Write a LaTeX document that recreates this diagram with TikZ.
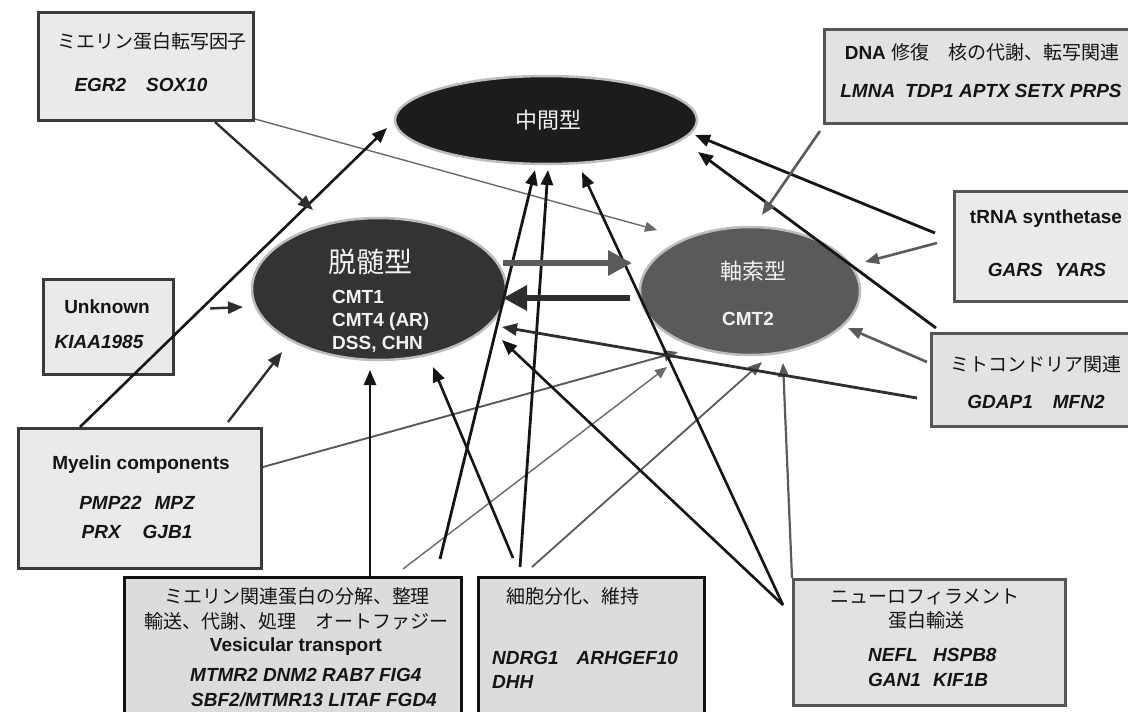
\documentclass[tikz,border=0pt]{standalone}
\usepackage{fontspec}
\setmainfont{Liberation Sans}
\newfontfamily\jpfont{Noto Sans CJK JP}
\usetikzlibrary{arrows.meta,shapes.geometric}

\definecolor{inkK}{HTML}{151515}
\definecolor{inkD}{HTML}{2E2E2E}
\definecolor{inkG}{HTML}{5A5A5A}
\definecolor{inkL}{HTML}{6A6A6A}
\definecolor{rim}{HTML}{BDBDBD}
\definecolor{fillMid}{HTML}{1C1C1C}
\definecolor{fillDem}{HTML}{333333}
\definecolor{fillAxo}{HTML}{5A5A5A}
\definecolor{boxA}{HTML}{EAEAEA}
\definecolor{boxB}{HTML}{E2E2E2}
\definecolor{boxC}{HTML}{DCDCDC}
\definecolor{edgeA}{HTML}{3A3A3A}
\definecolor{edgeB}{HTML}{555555}
\definecolor{edgeK}{HTML}{111111}
\definecolor{onDark}{HTML}{F2F2F2}

\begin{document}
\begin{tikzpicture}[x=1pt,y=-1pt,
  ell/.style={ellipse, draw=rim, line width=2.5pt, inner sep=0pt},
  box/.style={rectangle, anchor=north west, line width=3pt, inner sep=0pt},
  txt/.style={inner sep=0pt, text height=13.6pt, text depth=0pt, text=inkK,
    font=\fontsize{19pt}{23pt}\selectfont},
  jtxt/.style={txt, font=\fontsize{19pt}{23pt}\selectfont\jpfont},
  btxt/.style={txt, font=\fontsize{19pt}{23pt}\selectfont\bfseries},
  gtxt/.style={txt, font=\fontsize{19pt}{23pt}\selectfont\bfseries\itshape},
  blk/.style={line width=2.6pt, draw=inkK, -{Triangle[length=15pt,width=12pt]}},
  dk/.style={line width=2.4pt, draw=inkD, -{Triangle[length=15pt,width=12pt]}},
  gry/.style={line width=2.2pt, draw=inkG, -{Triangle[length=14pt,width=11pt]}},
  thn/.style={line width=1.4pt, draw=inkL, -{Triangle[length=12pt,width=10pt]}},
  fat/.style={line width=6pt, -{Triangle[length=24pt,width=24pt]}}
]
\useasboundingbox (0,0) rectangle (1128,712);
\clip (0,0) rectangle (1128,712);
\fill[white] (0,0) rectangle (1128,712);

% phenotype ellipses
\node[ell, fill=fillMid, minimum width=302pt, minimum height=88pt] (mid) at (546,120) {};
\node[ell, fill=fillDem, minimum width=254pt, minimum height=142pt] (dem) at (379,289) {};
\node[ell, fill=fillAxo, minimum width=220pt, minimum height=128pt] (axo) at (750,291) {};

\node[txt, text=onDark, font=\fontsize{22pt}{26pt}\selectfont\jpfont, text height=15.8pt] (midT) at (548,121) {中間型};
\node[txt, text=onDark, font=\fontsize{28pt}{32pt}\selectfont\jpfont, text height=20pt] (demT) at (370,262) {脱髄型};
\node[btxt, text=onDark, anchor=west] (demA) at (332,297) {CMT1};
\node[btxt, text=onDark, anchor=west] (demB) at (332,320) {CMT4 (AR)};
\node[btxt, text=onDark, anchor=west] (demC) at (332,343) {DSS, CHN};
\node[txt, text=onDark, font=\fontsize{22pt}{26pt}\selectfont\jpfont, text height=15.8pt] (axoT) at (753,272) {軸索型};
\node[btxt, text=onDark] (axoA) at (748,319) {CMT2};

% gene group boxes
\node[box, draw=edgeA, fill=boxA, minimum width=215pt, minimum height=108pt] (tf) at (37,11) {};
\node[jtxt] (tfT) at (152,42) {ミエリン蛋白転写因子};
\node[gtxt] (tfG) at (141,85) {EGR2\hspace{20pt}SOX10};

\node[box, draw=edgeB, fill=boxB, minimum width=317pt, minimum height=94pt] (dna) at (823,28) {};
\node[txt] (dnaT) at (982,53) {{\bfseries DNA} {\jpfont 修復　核の代謝、転写関連}};
\node[gtxt] (dnaG) at (981,91) {LMNA\hspace{10pt}TDP1 APTX SETX PRPS};

\node[box, draw=edgeB, fill=boxA, minimum width=187pt, minimum height=110pt] (trna) at (953,190) {};
\node[btxt] (trnaT) at (1046,217) {tRNA synthetase};
\node[gtxt] (trnaG) at (1047,270) {GARS\hspace{12pt}YARS};

\node[box, draw=edgeB, fill=boxB, minimum width=212pt, minimum height=93pt] (mito) at (930,332) {};
\node[jtxt] (mitoT) at (1036,365) {ミトコンドリア関連};
\node[gtxt] (mitoG) at (1036,402) {GDAP1\hspace{20pt}MFN2};

\node[box, draw=edgeA, fill=boxA, minimum width=130pt, minimum height=95pt] (unk) at (42,278) {};
\node[btxt] (unkT) at (107,307) {Unknown};
\node[gtxt] (unkG) at (99,342) {KIAA1985};

\node[box, draw=edgeA, fill=boxA, minimum width=243pt, minimum height=140pt] (myel) at (17,427) {};
\node[btxt] (myelT) at (141,463) {Myelin components};
\node[gtxt] (myelG) at (137,503) {PMP22\hspace{13pt}MPZ};
\node[gtxt] (myelH) at (137,532) {PRX\hspace{22pt}GJB1};

\node[box, draw=edgeK, fill=boxC, minimum width=337pt, minimum height=150pt] (deg) at (123,576) {};
\node[jtxt] (degA) at (297,597) {ミエリン関連蛋白の分解、整理};
\node[jtxt] (degB) at (296,622) {輸送、代謝、処理　オートファジー};
\node[btxt] (degC) at (296,645) {Vesicular transport};
\node[gtxt, anchor=west] (degD) at (190,675) {MTMR2 DNM2 RAB7 FIG4};
\node[gtxt, anchor=west] (degE) at (191,700) {SBF2/MTMR13 LITAF FGD4};

\node[box, draw=edgeK, fill=boxC, minimum width=226pt, minimum height=150pt] (cell) at (477,576) {};
\node[jtxt, anchor=west] (cellT) at (506,597) {細胞分化、維持};
\node[gtxt, anchor=west] (cellG) at (492,658) {NDRG1\hspace{18pt}ARHGEF10};
\node[gtxt, anchor=west] (cellH) at (492,682) {DHH};

\node[box, draw=edgeB, fill=boxB, minimum width=272pt, minimum height=126pt] (neuro) at (792,578) {};
\node[jtxt] (neuroA) at (925,597) {ニューロフィラメント};
\node[jtxt] (neuroB) at (926,621) {蛋白輸送};
\node[gtxt, anchor=west] (neuroG) at (868,655) {\makebox[65pt][l]{NEFL}HSPB8};
\node[gtxt, anchor=west] (neuroH) at (868,680) {\makebox[65pt][l]{GAN1}KIF1B};

% connectors into the ellipses
\draw[thn] ([shift={(0,-3)}]tf.south east) -- ([shift={(-93,-61)}]axo.center);
\draw[blk] ([shift={(63,0)}]myel.north west) -- ([shift={(-159,8)}]mid.center);
\draw[dk]  ([shift={(178,0)}]tf.south west) -- ([shift={(-66,-79)}]dem.center);
\draw[dk]  ([shift={(35,-18.5)}]unk.east) -- ([shift={(-136,18)}]dem.center);
\draw[dk]  ([shift={(-35,-5)}]myel.north east) -- ([shift={(-97,63)}]dem.center);
\draw[gry, line width=1.9pt] ([shift={(0,40)}]myel.north east) -- ([shift={(-72,61)}]axo.center);

\draw[blk] ([shift={(247,0)}]deg.north west) -- ([shift={(-9,81)}]dem.center);
\draw[thn] ([shift={(280,-7)}]deg.north west) -- ([shift={(-83,76)}]axo.center);
\draw[blk, line width=2.8pt] ([shift={(317,-17)}]deg.north west) -- ([shift={(-11,50)}]mid.center);

\draw[blk, line width=2.8pt] ([shift={(43,-9)}]cell.north west) -- ([shift={(2,50)}]mid.center);
\draw[blk] ([shift={(36,-18)}]cell.north west) -- ([shift={(54,78)}]dem.center);
\draw[gry, line width=1.8pt] ([shift={(55,-9)}]cell.north west) -- ([shift={(12,71)}]axo.center);

\draw[blk] ([shift={(-9,27)}]neuro.north west) -- ([shift={(36,52)}]mid.center);
\draw[blk] ([shift={(-9,27)}]neuro.north west) -- ([shift={(123,51)}]dem.center);
\draw[gry] (neuro.north west) -- ([shift={(33,72)}]axo.center);

\draw[blk, line width=2.8pt] ([shift={(6,-4)}]mito.north west) -- ([shift={(152,32)}]mid.center);
\draw[dk, line width=2.8pt] ([shift={(-13,66)}]mito.north west) -- ([shift={(123,38)}]dem.center);
\draw[gry, line width=2.6pt] ([shift={(-3,30)}]mito.north west) -- ([shift={(98,37)}]axo.center);

\draw[blk, line width=2.8pt] ([shift={(-18,43)}]trna.north west) -- ([shift={(149,15)}]mid.center);
\draw[gry, line width=2.6pt] ([shift={(-16,53)}]trna.north west) -- ([shift={(115,-29)}]axo.center);
\draw[gry, line width=2.6pt] ([shift={(-3,6)}]dna.south west) -- ([shift={(12,-76)}]axo.center);

% conversion arrows between the two main types
\draw[fat, draw=inkG] ([shift={(124,-26)}]dem.center) -- ([shift={(-118,-28)}]axo.center);
\draw[fat, draw=inkD] ([shift={(-120,7)}]axo.center) -- ([shift={(124,9)}]dem.center);
\end{tikzpicture}
\end{document}
